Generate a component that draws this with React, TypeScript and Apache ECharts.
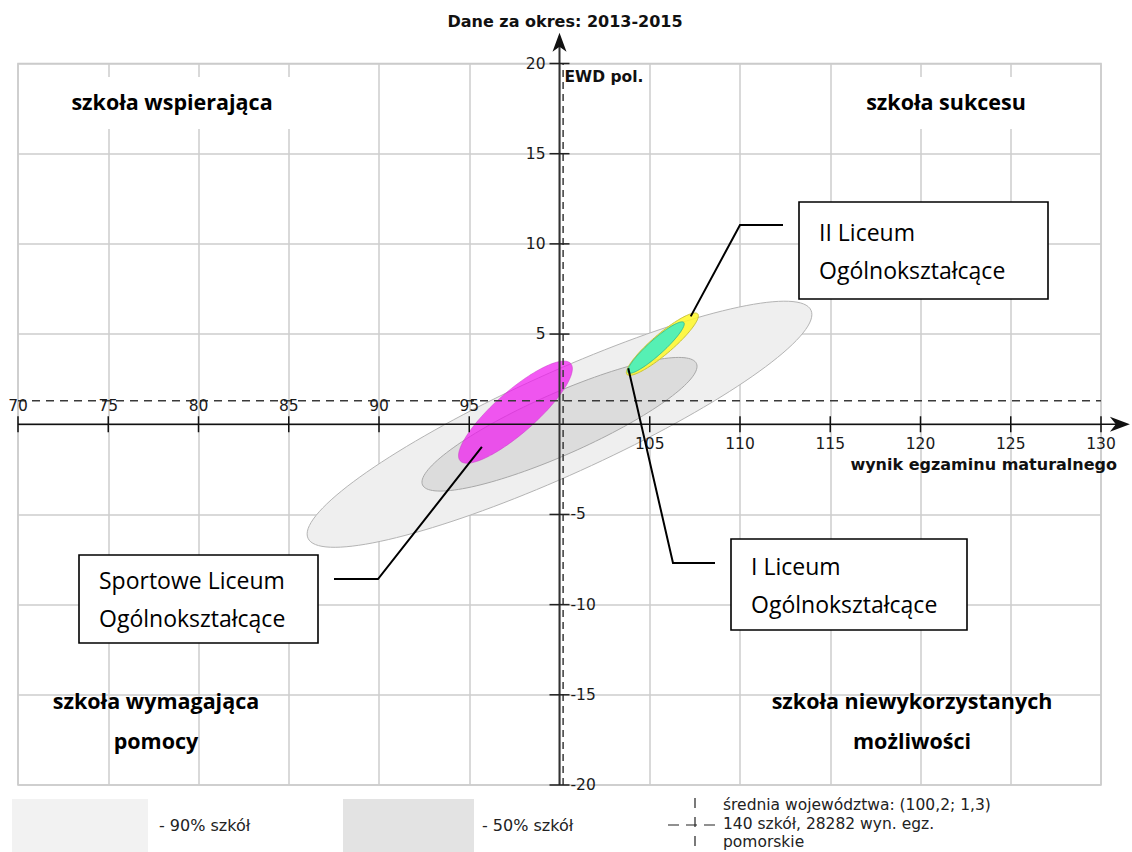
import React, { useEffect, useRef } from "react";
import * as echarts from "echarts";

// ---------- data ----------
const TITLE = "Dane za okres: 2013-2015";
const X_NAME = "wynik egzaminu maturalnego";
const Y_NAME = "EWD pol.";
const X_MIN = 70;
const X_MAX = 130;
const Y_MIN = -20;
const Y_MAX = 20;
const STEP = 5;
const X_TICKS = [70, 75, 80, 85, 90, 95, 105, 110, 115, 120, 125, 130];
const Y_TICKS = [20, 15, 10, 5, -5, -10, -15, -20];
const ORIGIN_X = 100;
const ORIGIN_Y = 0;
const AVG_X = 100.2;
const AVG_Y = 1.3;
const X_ARROW_END = 131.6;
const Y_ARROW_END = 21.7;

// ellipses (center, semi-axes, rotation in degrees)
const ELL_NAMES = ["90% szkół", "50% szkół", "Sportowe Liceum Ogólnokształcące", "II Liceum Ogólnokształcące", "I Liceum Ogólnokształcące"];
const ELL_CX = [100.0, 100.0, 97.56, 105.7, 105.34];
const ELL_CY = [0.0, 0.0, 0.67, 4.44, 4.25];
const ELL_A = [15.3, 8.3, 4.08, 2.58, 2.08];
const ELL_B = [2.82, 1.7, 1.15, 0.56, 0.42];
const ELL_ANGLE = [24.4, 23.9, 41.4, 40.5, 42];
const ELL_FILL = ["#efefef", "#dcdcdc", "rgba(240,20,240,0.7)", "rgba(255,248,40,0.85)", "#56f0b4"];
const ELL_STROKE = ["#b4b4b4", "#a8a8a8", "rgba(200,60,200,0.5)", "#c9c23c", "#3fbf8f"];

// callouts
const CALLOUT_TEXT = [
  ["Sportowe Liceum", "Ogólnokształcące"],
  ["II Liceum", "Ogólnokształcące"],
  ["I Liceum", "Ogólnokształcące"],
];
const CALLOUT_ANCHOR_X = [95.7, 107.27, 103.81];
const CALLOUT_ANCHOR_Y = [-1.26, 5.98, 3.1];

const QUADRANT_TEXT = [
  ["szkoła wspierająca"],
  ["szkoła sukcesu"],
  ["szkoła wymagająca", "pomocy"],
  ["szkoła niewykorzystanych", "możliwości"],
];
const LEGEND_TEXT = ["- 90% szkół", "- 50% szkół"];
const AVG_TEXT = ["średnia województwa: (100,2; 1,3)", "140 szkół, 28282 wyn. egz.", "pomorskie"];

// ---------- layout / style ----------
const DV = "'DejaVu Sans', sans-serif";
const OS = "'Open Sans', sans-serif";
const CALLOUT_BOX = [
  { x: 79, y: 555, w: 239, h: 88, elbow: [[334, 579], [378, 579]] },
  { x: 799, y: 202, w: 249, h: 97, elbow: [[783, 225], [740, 225]] },
  { x: 731, y: 539, w: 236, h: 91, elbow: [[715, 563], [673, 563]] },
];
const QUAD_POS = [
  { cx: 172, cy: 101, box: [54, 77, 240, 52] },
  { cx: 946, cy: 101, box: [848, 77, 198, 52] },
  { cx: 156, cy: 700, box: null },
  { cx: 912, cy: 700, box: null },
];

export default function App() {
  const ref = useRef<HTMLDivElement>(null);

  useEffect(() => {
    if (!ref.current) return;
    const chart = echarts.init(ref.current, undefined, { renderer: "svg" });

    const ellipseData = ELL_CX.map((cx, i) => [cx, ELL_CY[i], ELL_A[i], ELL_B[i], ELL_ANGLE[i]]);

    const renderEllipse = (params: any, api: any) => {
      const i = params.dataIndex;
      const cx = api.value(0);
      const cy = api.value(1);
      const a = api.value(2);
      const b = api.value(3);
      const ang = (api.value(4) * Math.PI) / 180;
      const pts: number[][] = [];
      const N = 144;
      for (let k = 0; k < N; k++) {
        const t = (k / N) * Math.PI * 2;
        const dx = a * Math.cos(t);
        const dy = b * Math.sin(t);
        pts.push(api.coord([cx + dx * Math.cos(ang) - dy * Math.sin(ang), cy + dx * Math.sin(ang) + dy * Math.cos(ang)]));
      }
      return {
        type: "polygon",
        shape: { points: pts },
        style: { fill: ELL_FILL[i], stroke: ELL_STROKE[i], lineWidth: 1 },
      };
    };

    const renderAxes = (_params: any, api: any) => {
      const children: any[] = [];
      const o = api.coord([ORIGIN_X, ORIGIN_Y]);
      const xs = api.coord([X_MIN, ORIGIN_Y]);
      const xe = api.coord([X_ARROW_END, ORIGIN_Y]);
      const yb = api.coord([ORIGIN_X, Y_MIN]);
      const ye = api.coord([ORIGIN_X, Y_ARROW_END]);
      // dashed average lines
      const av1 = api.coord([AVG_X, Y_MIN]);
      const av2 = api.coord([AVG_X, Y_MAX]);
      const ah1 = api.coord([X_MIN, AVG_Y]);
      const ah2 = api.coord([X_MAX, AVG_Y]);
      children.push({
        type: "line",
        shape: { x1: av1[0], y1: av1[1], x2: av2[0], y2: av2[1] },
        style: { stroke: "#3a3a3a", lineWidth: 1.5, lineDash: [7, 5] },
      });
      children.push({
        type: "line",
        shape: { x1: ah1[0], y1: ah1[1], x2: ah2[0], y2: ah2[1] },
        style: { stroke: "#3a3a3a", lineWidth: 1.5, lineDash: [8, 6] },
      });
      // x axis
      children.push({
        type: "line",
        shape: { x1: xs[0], y1: o[1], x2: xe[0] - 10, y2: o[1] },
        style: { stroke: "#111", lineWidth: 1.6 },
      });
      children.push({
        type: "polygon",
        shape: { points: [[xe[0], o[1]], [xe[0] - 20, o[1] - 7.5], [xe[0] - 14, o[1]], [xe[0] - 20, o[1] + 7.5]] },
        style: { fill: "#111" },
      });
      // y axis
      children.push({
        type: "line",
        shape: { x1: o[0], y1: yb[1], x2: o[0], y2: ye[1] + 10 },
        style: { stroke: "#333", lineWidth: 2 },
      });
      children.push({
        type: "polygon",
        shape: { points: [[o[0], ye[1]], [o[0] - 7, ye[1] + 19], [o[0], ye[1] + 14], [o[0] + 7, ye[1] + 19]] },
        style: { fill: "#111" },
      });
      // x ticks + labels
      X_TICKS.forEach((v) => {
        const p = api.coord([v, ORIGIN_Y]);
        children.push({
          type: "line",
          shape: { x1: p[0], y1: p[1] - 8, x2: p[0], y2: p[1] + 8 },
          style: { stroke: "#111", lineWidth: 1.5 },
        });
        const below = v > ORIGIN_X;
        children.push({
          type: "text",
          style: {
            text: String(v),
            x: p[0],
            y: below ? p[1] + 20 : p[1] - 18,
            align: "center",
            verticalAlign: "middle",
            fill: "#1a1a1a",
            fontSize: 15.5,
            fontFamily: DV,
          },
        });
      });
      // y ticks + labels
      Y_TICKS.forEach((v) => {
        const p = api.coord([ORIGIN_X, v]);
        children.push({
          type: "line",
          shape: { x1: p[0] - 10, y1: p[1], x2: p[0] + 10, y2: p[1] },
          style: { stroke: "#222", lineWidth: 1.5 },
        });
        const right = v < ORIGIN_Y;
        children.push({
          type: "text",
          style: {
            text: String(v),
            x: right ? p[0] + 11 : p[0] - 14,
            y: p[1],
            align: right ? "left" : "right",
            verticalAlign: "middle",
            fill: "#1a1a1a",
            fontSize: 15.5,
            fontFamily: DV,
          },
        });
      });
      // axis names
      const yn = api.coord([ORIGIN_X, Y_MAX]);
      children.push({
        type: "text",
        style: {
          text: Y_NAME,
          x: yn[0] + 5,
          y: yn[1] + 13,
          align: "left",
          verticalAlign: "middle",
          fill: "#111",
          fontSize: 15.5,
          fontWeight: "bold",
          fontFamily: DV,
        },
      });
      const xn = api.coord([X_MAX, ORIGIN_Y]);
      children.push({
        type: "text",
        style: {
          text: X_NAME,
          x: xn[0] + 16,
          y: xn[1] + 40,
          align: "right",
          verticalAlign: "middle",
          fill: "#111",
          fontSize: 16,
          fontWeight: "bold",
          fontFamily: DV,
        },
      });
      return { type: "group", children };
    };

    chart.setOption({
      animation: false,
      backgroundColor: "#ffffff",
      title: {
        text: TITLE,
        left: 560,
        top: 8,
        textAlign: "center",
        textStyle: { fontFamily: DV, fontWeight: "bold", fontSize: 16, color: "#111" },
      },
      grid: {
        left: 18,
        right: 31,
        top: 63.5,
        bottom: 67,
        show: true,
        borderColor: "#c8c8c8",
        borderWidth: 1.5,
      },
      xAxis: {
        type: "value",
        min: X_MIN,
        max: X_MAX,
        interval: STEP,
        axisLine: { show: false },
        axisTick: { show: false },
        axisLabel: { show: false },
        splitLine: { show: true, lineStyle: { color: "#cccccc", width: 1.5 } },
      },
      yAxis: {
        type: "value",
        min: Y_MIN,
        max: Y_MAX,
        interval: STEP,
        axisLine: { show: false },
        axisTick: { show: false },
        axisLabel: { show: false },
        splitLine: { show: true, lineStyle: { color: "#cccccc", width: 1.5 } },
      },
      series: [
        {
          type: "custom",
          name: "ellipses",
          z: 3,
          clip: false,
          encode: { x: 0, y: 1 },
          data: ellipseData,
          renderItem: renderEllipse,
          silent: true,
        },
        {
          type: "custom",
          name: "axes",
          z: 5,
          clip: false,
          encode: { x: 0, y: 1 },
          data: [[ORIGIN_X, ORIGIN_Y]],
          renderItem: renderAxes,
          silent: true,
        },
      ],
    });

    // graphics: quadrant labels, callouts, legend
    const g: any[] = [];
    QUADRANT_TEXT.forEach((lines, i) => {
      const q = QUAD_POS[i];
      if (q.box) {
        g.push({
          type: "rect",
          z: 1,
          shape: { x: q.box[0], y: q.box[1], width: q.box[2], height: q.box[3] },
          style: { fill: "#ffffff" },
        });
      }
      lines.forEach((t, k) => {
        g.push({
          type: "text",
          z: 2,
          style: {
            text: t,
            x: q.cx,
            y: q.cy + k * 40,
            align: "center",
            verticalAlign: "middle",
            fill: "#000",
            fontSize: 21.5,
            fontWeight: "bold",
            fontFamily: OS,
          },
        });
      });
    });

    CALLOUT_TEXT.forEach((lines, i) => {
      const b = CALLOUT_BOX[i];
      const anchor = chart.convertToPixel({ gridIndex: 0 }, [CALLOUT_ANCHOR_X[i], CALLOUT_ANCHOR_Y[i]]) as number[];
      g.push({
        type: "polyline",
        z: 20,
        shape: { points: [b.elbow[0], b.elbow[1], anchor] },
        style: { stroke: "#000", lineWidth: 2, fill: null },
      });
      g.push({
        type: "rect",
        z: 20,
        shape: { x: b.x, y: b.y, width: b.w, height: b.h },
        style: { fill: "#ffffff", stroke: "#000", lineWidth: 1.6 },
      });
      lines.forEach((t, k) => {
        g.push({
          type: "text",
          z: 21,
          style: {
            text: t,
            x: b.x + 20,
            y: b.y + b.h / 2 - 19 + k * 38,
            align: "left",
            verticalAlign: "middle",
            fill: "#000",
            fontSize: 23,
            fontFamily: OS,
          },
        });
      });
    });

    // legend
    g.push({ type: "rect", shape: { x: 12, y: 799, width: 136, height: 53 }, style: { fill: "#f2f2f2" } });
    g.push({ type: "rect", shape: { x: 343, y: 799, width: 131, height: 53 }, style: { fill: "#e3e3e3" } });
    const legendX = [159, 482];
    LEGEND_TEXT.forEach((t, i) => {
      g.push({
        type: "text",
        style: { text: t, x: legendX[i], y: 825, align: "left", verticalAlign: "middle", fill: "#222", fontSize: 16, fontFamily: DV },
      });
    });
    g.push({ type: "line", shape: { x1: 668, y1: 825, x2: 716, y2: 825 }, style: { stroke: "#222", lineWidth: 1.2, lineDash: [11, 7] } });
    g.push({ type: "line", shape: { x1: 695, y1: 798, x2: 695, y2: 849 }, style: { stroke: "#222", lineWidth: 1.2, lineDash: [10, 9] } });
    AVG_TEXT.forEach((t, k) => {
      g.push({
        type: "text",
        style: { text: t, x: 723, y: 805 + k * 18.5, align: "left", verticalAlign: "middle", fill: "#222", fontSize: 15.5, fontFamily: DV },
      });
    });

    chart.setOption({ graphic: g });

    return () => chart.dispose();
  }, []);

  return <div ref={ref} style={{ position: "absolute", left: 0, top: 0, width: 1132, height: 852 }} />;
}
